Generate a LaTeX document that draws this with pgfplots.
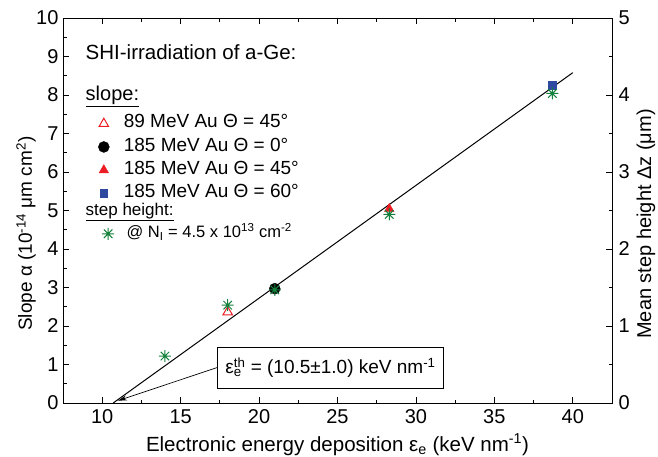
\documentclass[border=0pt]{standalone}
\usepackage{fontspec}
\setmainfont{Liberation Sans}
\usepackage{pgfplots}
\pgfplotsset{compat=1.18}
\usetikzlibrary{calc,arrows.meta}

\definecolor{mred}{RGB}{237,28,36}
\definecolor{mblue}{RGB}{46,74,160}
\definecolor{mgreen}{RGB}{20,130,60}

% 8-armed star (+ and x together)
\pgfdeclareplotmark{star8}{%
  \pgfpathmoveto{\pgfqpoint{-\pgfplotmarksize}{0pt}}\pgfpathlineto{\pgfqpoint{\pgfplotmarksize}{0pt}}%
  \pgfpathmoveto{\pgfqpoint{0pt}{-\pgfplotmarksize}}\pgfpathlineto{\pgfqpoint{0pt}{\pgfplotmarksize}}%
  \pgfpathmoveto{\pgfqpoint{-0.707\pgfplotmarksize}{-0.707\pgfplotmarksize}}\pgfpathlineto{\pgfqpoint{0.707\pgfplotmarksize}{0.707\pgfplotmarksize}}%
  \pgfpathmoveto{\pgfqpoint{-0.707\pgfplotmarksize}{0.707\pgfplotmarksize}}\pgfpathlineto{\pgfqpoint{0.707\pgfplotmarksize}{-0.707\pgfplotmarksize}}%
  \pgfusepathqstroke}

\newcommand\ul[1]{\leavevmode\vtop{\hbox{#1}\kern1.2pt\hrule height 1.2pt}}

\pgfplotsset{
  common/.style={
    scale only axis, width=549pt, height=385pt,
    at={(0,0)}, anchor=south west,
    xmin=7.5, xmax=42.5,
    tick align=inside,
    major tick length=6pt, minor tick length=3.5pt,
    axis line style={line width=0.8pt},
    every tick/.style={black, line width=0.8pt},
    /pgf/number format/assume math mode=true,
    tick label style={font=\fontsize{20}{23}\selectfont},
    clip=false,
  }
}

\begin{document}
\begin{tikzpicture}[font=\fontsize{19}{22}\selectfont]
\begin{axis}[common, name=ax,
  ymin=0, ymax=10,
  xtick={10,15,...,40}, minor x tick num=1,
  ytick={0,1,...,10}, minor y tick num=1,
  xtick pos=both, ytick pos=left,
  xticklabel style={yshift=-3pt},
  yticklabel style={xshift=-1pt},
  xlabel={Electronic energy deposition ε\textsubscript{e} (keV nm\textsuperscript{-1})},
  xlabel style={at={(axis description cs:0.5,0)}, anchor=base, yshift=-48pt, font=\fontsize{20.5}{24}\selectfont},
  ylabel={Slope α (10\textsuperscript{-14} μm cm\textsuperscript{2})},
  ylabel style={at={(axis description cs:-0.0674,0.44)}, anchor=center},
  legend style={at={(0.064,0.756)}, anchor=north west, draw=none, fill=none,
    inner sep=0pt, row sep=0pt, column sep=11pt,
    nodes={inner sep=3.5pt, text height=12.2pt, text depth=4pt}},
  legend cell align=left,
]
\addplot[black, line width=1pt, forget plot] coordinates {(10.7,0) (40,8.58)};
\addplot[only marks, mark=triangle, mark size=5.5pt, mred, mark options={line width=1pt}]
  coordinates {(18.0,2.36)};
\addlegendentry{89 MeV Au Θ = 45°}
\addplot[only marks, mark=*, mark size=5.5pt, black]
  coordinates {(21.0,2.97)};
\addlegendentry{185 MeV Au Θ = 0°}
\addplot[only marks, mark=triangle*, mark size=5.5pt, mred]
  coordinates {(28.3,5.04)};
\addlegendentry{185 MeV Au Θ = 45°}
\addplot[only marks, mark=square*, mark size=3.8pt, mblue]
  coordinates {(38.7,8.26)};
\addlegendentry{185 MeV Au Θ = 60°}

\node[anchor=base west, inner sep=0pt, font=\fontsize{20.5}{24}\selectfont] at (rel axis cs:0.041,0.893) {SHI-irradiation of a-Ge:};
\node[anchor=base west, inner sep=0pt, font=\fontsize{20}{24}\selectfont] at (rel axis cs:0.041,0.785) {\ul{slope:}};
\node[anchor=base west, inner sep=0pt, font=\fontsize{17}{19}\selectfont] at (rel axis cs:0.041,0.488) {\ul{step height:}};

\node[draw, line width=0.8pt, fill=white, anchor=west, inner xsep=8pt, minimum height=41pt] (bx)
  at (axis cs:17.32,0.92)
  {ε\rlap{\textsubscript{e}}\textsuperscript{th} = (10.5±1.0) keV nm\textsuperscript{-1}};
\draw[-{Stealth[length=9pt,width=5pt]}, line width=0.7pt] (bx.west) -- (axis cs:11.0,0.06);
\end{axis}

\begin{axis}[common,
  ymin=0, ymax=5,
  hide x axis, axis y line*=right,
  ytick={0,1,...,5}, minor y tick num=1,
  yticklabel style={xshift=3pt},
  ylabel={Mean step height Δz (μm)},
  ylabel style={at={(axis description cs:1.062,0.465)}, anchor=center, font=\fontsize{20}{23}\selectfont},
  legend style={at={(0.071,0.470)}, anchor=north west, draw=none, fill=none,
    inner sep=0pt, row sep=0pt, column sep=9pt,
    nodes={inner sep=3.5pt, text height=12pt, text depth=4pt},
    font=\fontsize{16.5}{19}\selectfont},
  legend cell align=left,
]
\addplot[only marks, mark=star8, mark size=6pt, mgreen, mark options={line width=1pt}]
  coordinates {(14.0,0.61) (18.0,1.27) (21.0,1.47) (28.3,2.45) (38.7,4.02)};
\addlegendentry{@ N\textsubscript{I} = 4.5 x 10\textsuperscript{13} cm\textsuperscript{-2}}
\end{axis}

\pgfresetboundingbox
\path[use as bounding box] ($(ax.south west)+(-63pt,-53pt)$) rectangle ($(ax.south west)+(595pt,403pt)$);
\end{tikzpicture}
\end{document}
